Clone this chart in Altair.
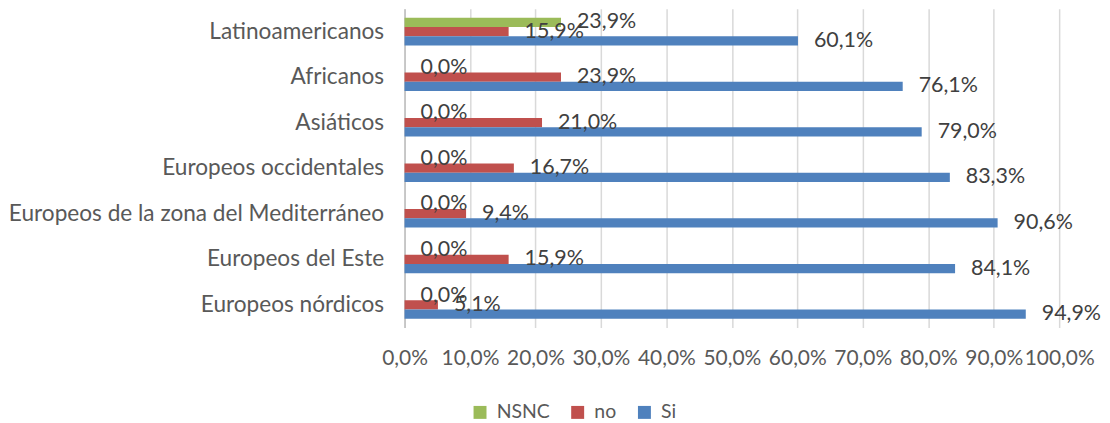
import altair as alt
import pandas as pd

categories = [
    "Latinoamericanos",
    "Africanos",
    "Asiáticos",
    "Europeos occidentales",
    "Europeos de la zona del Mediterráneo",
    "Europeos del Este",
    "Europeos nórdicos",
]
series = ["NSNC", "no", "Si"]
nsnc = [23.9, 0.0, 0.0, 0.0, 0.0, 0.0, 0.0]
no = [15.9, 23.9, 21.0, 16.7, 9.4, 15.9, 5.1]
si = [60.1, 76.1, 79.0, 83.3, 90.6, 84.1, 94.9]
colors = ["#9BBB59", "#C0504D", "#4F81BD"]
x_ticks = [0, 10, 20, 30, 40, 50, 60, 70, 80, 90, 100]

rows = []
for s, vals in zip(series, [nsnc, no, si]):
    for c, v in zip(categories, vals):
        rows.append({"cat": c, "serie": s, "val": v,
                     "label": f"{v:.1f}".replace(".", ",") + "%"})
df = pd.DataFrame(rows)

FONT = "Lato"
y_enc = alt.Y("cat:N", sort=categories, title=None,
              scale=alt.Scale(paddingInner=0.39, paddingOuter=0.195),
              axis=alt.Axis(labelFont=FONT, labelFontSize=22.7, labelColor="#595959",
                            labelPadding=21, ticks=False, domain=True,
                            domainColor="#BFBFBF", domainWidth=1.5,
                            minExtent=398, maxExtent=398, labelLimit=500))
yoff = alt.YOffset("serie:N", sort=series, scale=alt.Scale(paddingInner=0, paddingOuter=0))
x_enc = alt.X("val:Q", title=None,
              scale=alt.Scale(domain=[0, 100], nice=False),
              axis=alt.Axis(values=x_ticks, labelFont=FONT, labelFontSize=21,
                            labelColor="#595959", ticks=False, domain=False,
                            grid=True, gridColor="#D9D9D9", gridWidth=1.5,
                            labelPadding=20, labelOverlap=False, labelFlush=False,
                            labelExpr="replace(format(datum.value, '.1f'), '.', ',') + '%'"))

bars = alt.Chart(df).mark_bar().encode(
    y=y_enc, yOffset=yoff, x=x_enc,
    color=alt.Color("serie:N", sort=series,
                    scale=alt.Scale(domain=series, range=colors),
                    legend=alt.Legend(title=None, orient="none", direction="horizontal",
                                      legendX=66, legendY=395,
                                      labelFont=FONT, labelFontSize=19.5, labelColor="#595959",
                                      symbolType="square", symbolSize=169,
                                      symbolStrokeWidth=0, labelOffset=7, columnPadding=18)),
)
texts = alt.Chart(df).mark_text(align="left", baseline="middle", dx=16,
                                font=FONT, fontSize=21.5, color="#404040").encode(
    y=alt.Y("cat:N", sort=categories), yOffset=alt.YOffset("serie:N", sort=series),
    x=alt.X("val:Q"), text="label:N",
)

chart = alt.layer(bars, texts).properties(
    width=657, height=320,
    padding={"left": 0, "top": 0, "right": 0, "bottom": 0},
).configure_view(stroke=None)

chart.save("out.html", embed_options={"renderer": "svg", "actions": False})
